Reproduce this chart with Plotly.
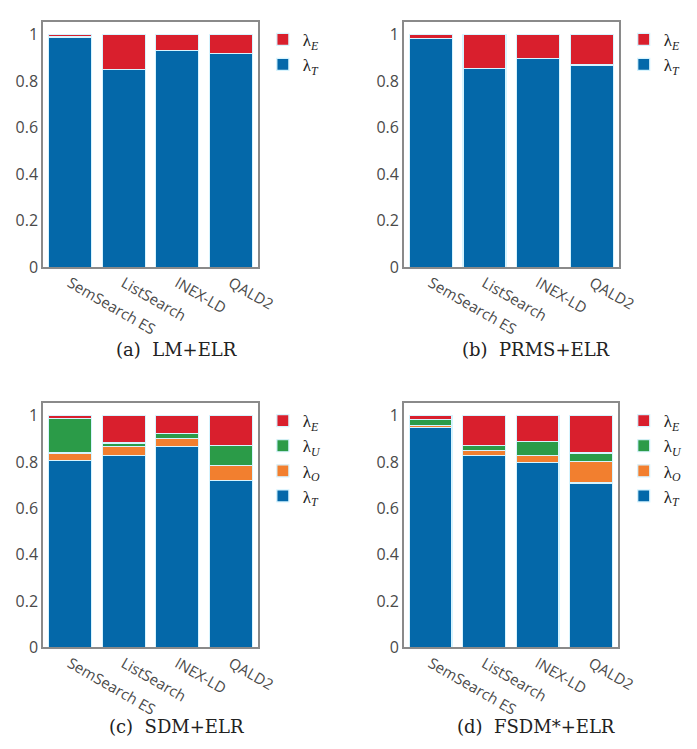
import plotly.graph_objects as go

categories = ["SemSearch ES", "ListSearch", "INEX-LD", "QALD2"]

# Stacked segment heights (bottom to top): lambda_T, lambda_O, lambda_U, lambda_E
lm_T = [0.99, 0.85, 0.93, 0.92]
lm_E = [0.01, 0.15, 0.07, 0.08]

prms_T = [0.982, 0.855, 0.897, 0.869]
prms_E = [0.018, 0.145, 0.103, 0.131]

sdm_T = [0.806, 0.829, 0.867, 0.720]
sdm_O = [0.034, 0.040, 0.034, 0.064]
sdm_U = [0.150, 0.014, 0.024, 0.089]
sdm_E = [0.010, 0.117, 0.075, 0.127]

fsdm_T = [0.951, 0.829, 0.798, 0.710]
fsdm_O = [0.007, 0.023, 0.031, 0.092]
fsdm_U = [0.025, 0.021, 0.061, 0.038]
fsdm_E = [0.017, 0.127, 0.110, 0.160]

captions = ["(a)\u00a0\u00a0LM+ELR", "(b)\u00a0\u00a0PRMS+ELR",
            "(c)\u00a0\u00a0SDM+ELR", "(d)\u00a0\u00a0FSDM*+ELR"]

names = {"T": "λ<sub><i>T</i></sub>", "O": "λ<sub><i>O</i></sub>",
         "U": "λ<sub><i>U</i></sub>", "E": "λ<sub><i>E</i></sub>"}
colors = {"T": "#0468a9", "O": "#f27f2f", "U": "#2b9b48", "E": "#d91f2d"}

panels = [
    [("T", lm_T), ("E", lm_E)],
    [("T", prms_T), ("E", prms_E)],
    [("T", sdm_T), ("O", sdm_O), ("U", sdm_U), ("E", sdm_E)],
    [("T", fsdm_T), ("O", fsdm_O), ("U", fsdm_U), ("E", fsdm_E)],
]

W, H = 697, 749
# pixel frames: (left, right, top, bottom)
frames = [(36, 257, 14, 263), (407, 628, 14, 263), (36, 257, 401, 649), (407, 627, 401, 649)]
legend_pos = [(262, 14), (633, 14), (262, 401), (633, 401)]
caption_pos = [(173, 347), (543, 347), (173, 729), (543, 729)]

fig = go.Figure()
layout = dict(
    width=W, height=H, margin=dict(l=0, r=0, t=0, b=0),
    paper_bgcolor="white", plot_bgcolor="white", barmode="stack", bargap=0.2,
    showlegend=True, annotations=[],
)

xtickfont = dict(family="Open Sans", size=15, color="#4a4a4a")
ytickfont = dict(family="Open Sans", size=16, color="#4a4a4a")
for i, series in enumerate(panels):
    sfx = "" if i == 0 else str(i + 1)
    leg = "legend" if i == 0 else "legend" + str(i + 1)
    for key, vals in series:
        fig.add_trace(go.Bar(
            x=categories, y=vals, name=names[key], legend=leg,
            xaxis="x" + sfx, yaxis="y" + sfx,
            marker=dict(color=colors[key], line=dict(color="#d6f4ff", width=1.2)),
        ))
    l, r, t, b = frames[i]
    layout["xaxis" + sfx] = dict(
        domain=[l / W, r / W], anchor="y" + sfx, range=[-0.5, 3.5],
        showline=True, linecolor="#8a8a8a", linewidth=1.5, mirror=True,
        showgrid=False, ticks="", tickangle=30, tickfont=xtickfont, zeroline=False,
    )
    layout["yaxis" + sfx] = dict(
        domain=[1 - b / H, 1 - t / H], anchor="x" + sfx, range=[0, 1.055],
        showline=True, linecolor="#8a8a8a", linewidth=1.5, mirror=True,
        showgrid=False, ticks="", tickvals=[0, 0.2, 0.4, 0.6, 0.8, 1],
        tickfont=ytickfont, zeroline=False,
    )
    lx, ly = legend_pos[i]
    layout[leg] = dict(
        x=lx / W, y=1 - ly / H, xanchor="left", yanchor="top",
        traceorder="reversed", bgcolor="rgba(0,0,0,0)",
        font=dict(family="Liberation Serif", size=17, color="#222222"),
        itemwidth=30, tracegroupgap=0,
    )
    cx, cy = caption_pos[i]
    layout["annotations"].append(dict(
        text=captions[i], x=cx / W, y=1 - cy / H, xref="paper", yref="paper",
        xanchor="center", yanchor="middle", showarrow=False,
        font=dict(family="DejaVu Serif", size=18, color="#222222"),
    ))

fig.update_layout(**layout)
fig.write_html("out.html")
